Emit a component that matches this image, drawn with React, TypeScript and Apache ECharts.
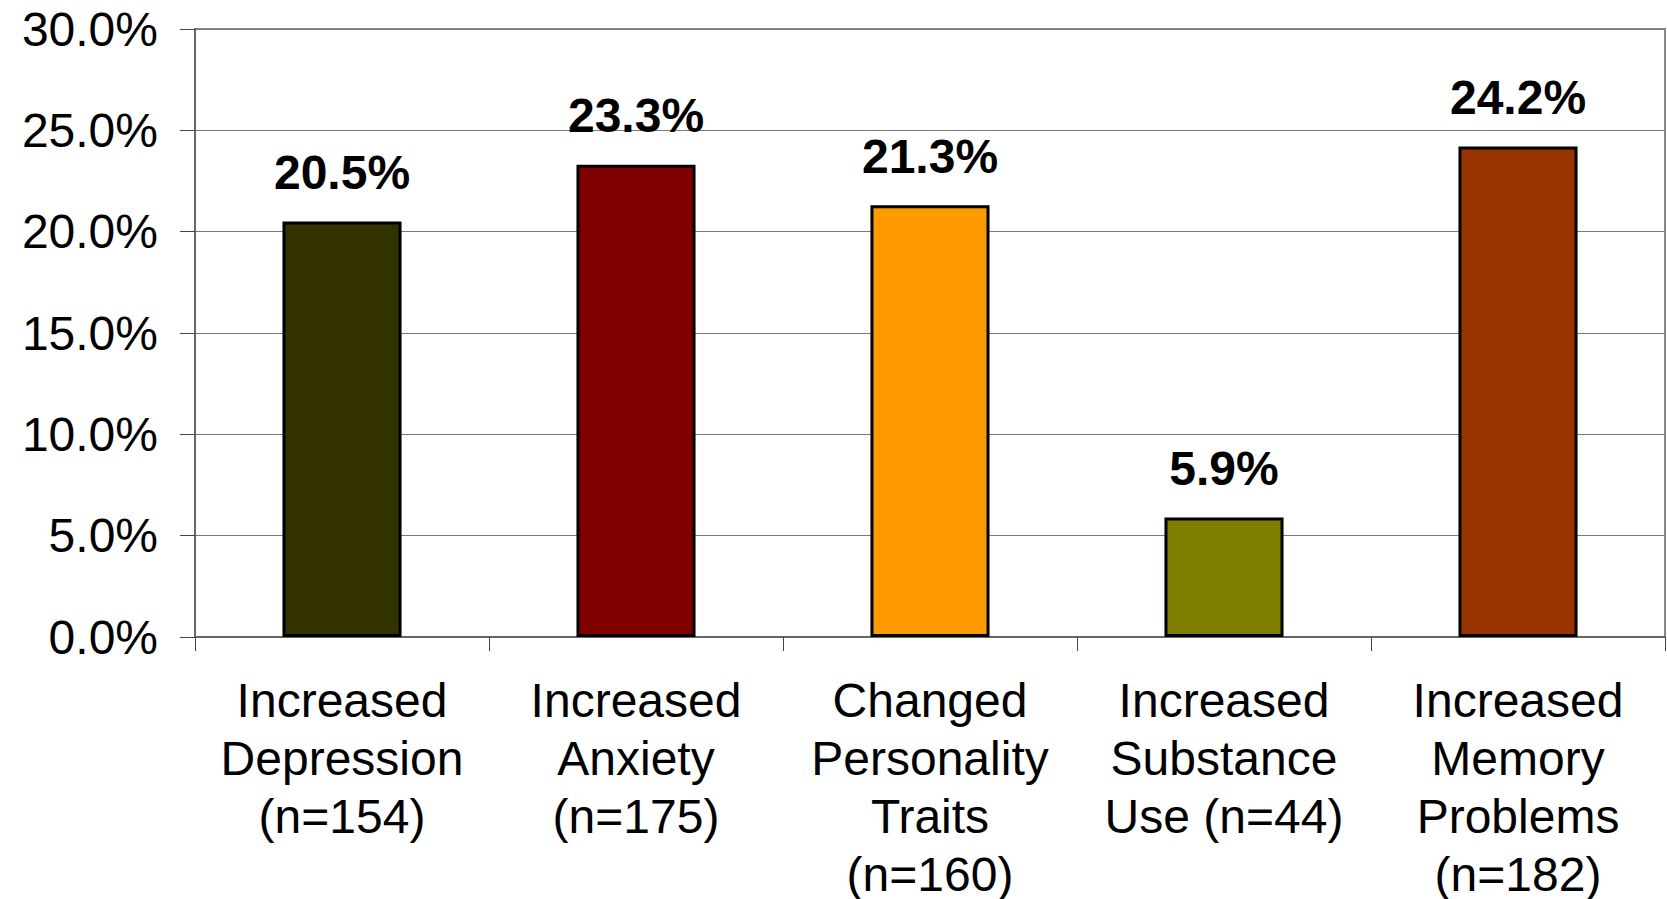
import React, { useEffect, useRef } from "react";
import * as echarts from "echarts";

const categories = [
  "Increased\nDepression\n(n=154)",
  "Increased\nAnxiety\n(n=175)",
  "Changed\nPersonality\nTraits\n(n=160)",
  "Increased\nSubstance\nUse (n=44)",
  "Increased\nMemory\nProblems\n(n=182)",
];
const values = [20.5, 23.3, 21.3, 5.9, 24.2];
const barColors = ["#333300", "#800000", "#FF9900", "#808000", "#993300"];

export default function App() {
  const ref = useRef<HTMLDivElement>(null);
  useEffect(() => {
    if (!ref.current) return;
    const chart = echarts.init(ref.current, undefined, { renderer: "svg" });
    chart.setOption({
      animation: false,
      backgroundColor: "#ffffff",
      textStyle: { fontFamily: "Liberation Sans, Arial, sans-serif" },
      grid: {
        left: 195,
        right: 2,
        top: 29,
        bottom: 262,
        containLabel: false,
        outerBoundsMode: "none",
        show: true,
        borderColor: "#888888",
        borderWidth: 2,
      },
      xAxis: {
        type: "category",
        data: categories,
        axisLine: { show: true, lineStyle: { color: "#666666", width: 2 } },
        axisTick: { show: true, length: 14, lineStyle: { color: "#444444", width: 1 } },
        axisLabel: {
          interval: 0,
          color: "#000000",
          fontSize: 48,
          lineHeight: 58,
          margin: 34,
          fontFamily: "Liberation Sans, Arial, sans-serif",
        },
      },
      yAxis: {
        type: "value",
        min: 0,
        max: 30,
        interval: 5,
        axisLine: { show: true, lineStyle: { color: "#666666", width: 2 } },
        axisTick: { show: true, length: 15, inside: false, lineStyle: { color: "#444444", width: 1 } },
        splitLine: { show: true, lineStyle: { color: "#7a7a7a", width: 1 } },
        axisLabel: {
          color: "#000000",
          fontSize: 48,
          margin: 37,
          fontFamily: "Liberation Sans, Arial, sans-serif",
          formatter: (v: number) => v.toFixed(1) + "%",
        },
      },
      series: [
        {
          type: "bar",
          barWidth: "40.5%",
          data: values.map((v, i) => ({
            value: v,
            itemStyle: { color: barColors[i], borderColor: "#000000", borderWidth: 3 },
          })),
          label: {
            show: true,
            position: "top",
            distance: 25,
            color: "#000000",
            fontSize: 48,
            fontWeight: "bold",
            fontFamily: "Liberation Sans, Arial, sans-serif",
            formatter: (p: any) => p.value.toFixed(1) + "%",
          },
        },
      ],
    });
    return () => chart.dispose();
  }, []);
  return (
    <div
      ref={ref}
      style={{ position: "fixed", left: 0, top: 0, width: 1667, height: 899 }}
    />
  );
}
